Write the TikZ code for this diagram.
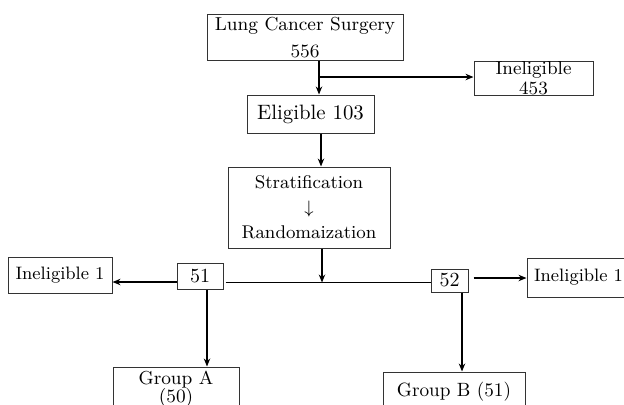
\documentclass[tikz,border=0pt]{standalone}
\usetikzlibrary{arrows.meta}
\begin{document}
\begin{tikzpicture}[x=0.5pt,y=-0.5pt,
  box/.style={draw=black!80,line width=0.5pt,inner sep=0pt,align=center,rectangle},
  conn/.style={line width=0.8pt},
  arr/.style={conn,-{Stealth[length=4pt,width=3.2pt]}}]
\useasboundingbox (0,0) rectangle (624,404);
\fill[white] (0,0) rectangle (624,404);

\node[box,minimum width=98pt,minimum height=23pt,font=\fontsize{9.4}{13.5}\selectfont] (lung) at (305,37.5) {Lung Cancer Surgery\\556};
\node[box,minimum width=59.5pt,minimum height=17pt,font=\fontsize{9.3}{10}\selectfont] (inel453) at (533.5,78) {Ineligible\\453};
\node[box,minimum width=63.5pt,minimum height=19pt,font=\fontsize{10.4}{12}\selectfont] (elig) at (310.5,114) {Eligible 103};
\node[box,minimum width=81pt,minimum height=40.5pt,font=\fontsize{9.2}{12.5}\selectfont] (strat) at (309,207.5) {Stratification\\$\downarrow$\\Randomaization};
\node[box,minimum width=23pt,minimum height=13pt,font=\fontsize{10}{12}\selectfont] (n51) at (200,276) {51};
\node[box,minimum width=18.5pt,minimum height=11.5pt,font=\fontsize{10}{12}\selectfont] (n52) at (449.5,280.5) {52};
\node[box,minimum width=52pt,minimum height=18pt,font=\fontsize{9}{11}\selectfont] (ineL) at (60,275) {Ineligible 1};
\node[box,minimum width=51.5pt,minimum height=19.5pt,font=\fontsize{9}{11}\selectfont] (ineR) at (578.5,277.5) {Ineligible 1};
\node[box,minimum width=63pt,minimum height=22pt,font=\fontsize{9.4}{9}\selectfont] (grpA) at (176,389) {Group A\\(50)};
\node[box,minimum width=71pt,minimum height=20pt,font=\fontsize{9.6}{11}\selectfont] (grpB) at (454,392) {Group B (51)};

\coordinate (a1) at ([xshift=7pt]lung.south);
\draw[arr] (a1) -- (a1 |- elig.north);
\coordinate (b1) at ([yshift=-8pt]a1);
\draw[arr] (b1) -- (b1 -| inel453.west);

\coordinate (a2) at ([xshift=5.25pt]elig.south);
\draw[arr] (a2) -- (a2 |- strat.north);

\coordinate (hl) at ([yshift=-3.25pt]n51.east);
\draw[conn] ([xshift=1pt]hl) -- (hl -| n52.west);
\coordinate (a3) at ([xshift=6.5pt]strat.south);
\draw[arr] (a3) -- (a3 |- hl);

\coordinate (l1) at ([yshift=-3pt]n51.west);
\draw[arr] (l1) -- (l1 -| ineL.east);

\coordinate (r1) at ([xshift=2.5pt,yshift=1.25pt]n52.east);
\draw[arr] (r1) -- (r1 -| ineR.west);

\coordinate (d1) at ([xshift=3.5pt]n51.south);
\draw[arr] (d1) -- (d1 |- grpA.north);

\coordinate (d2) at ([xshift=6.25pt]n52.south);
\draw[arr] (d2) -- (d2 |- grpB.north);
\end{tikzpicture}
\end{document}
